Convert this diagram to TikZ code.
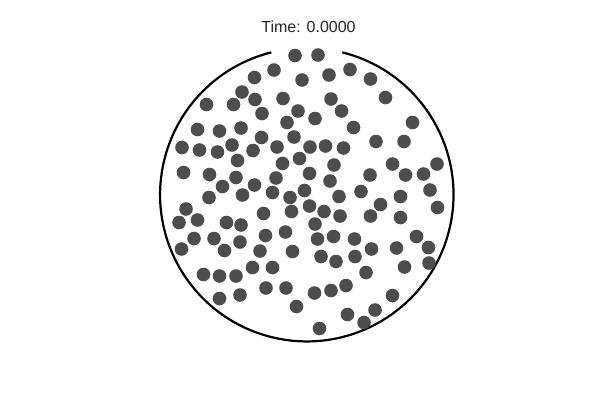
\documentclass[tikz,border=0pt]{standalone}
\usepackage{fontspec}
\setmainfont{Liberation Sans}
\definecolor{dotgray}{RGB}{77,77,77}
\definecolor{titlegray}{RGB}{38,38,38}
\begin{document}
\begin{tikzpicture}[x=1pt,y=-1pt,
  ball/.style={circle,fill=dotgray,draw=none,inner sep=0pt,minimum size=13.6pt},
  wall/.style={line width=2.2pt,black}]
\useasboundingbox (0,0) rectangle (600,400);
\node[font=\fontsize{16}{18}\selectfont,anchor=base,text=titlegray] (title) at (308.5,32.5) {Time: 0.0000};
\coordinate (c) at (306.8,194.7);
\draw[wall] ([shift={(-76:146.7)}]c) arc[start angle=-76,end angle=256,radius=146.7];
\foreach \px/\py [count=\i] in {295/55.5,318/55,274/70,350/69.5,254.5/77.5,302/80,329/75,370.5/79,242/92,385.5/97.5,
206.5/104.5,233.5/104.5,255/99.5,283/98.5,331/99,298/111,341.5/111,262/113.5,287/122.5,315/118.5,
353.5/127.5,412.5/122.5,197.5/129.5,219.5/131,241/128,261.5/137.5,294/137,376/141.5,404/141.5,182/147.5,
199.5/150,217.5/152,232/145,253/150.5,277/147,310/147,325.5/146,343.5/148,237.5/160.5,299.5/158.5,
282.5/163.5,334/165,392.5/164,437/164,183.5/172.5,209.5/174.5,236/177.5,309.5/173.5,276/178,330/181,
370/175,405.5/175,423.5/174,222.5/186.5,254.5/185,272.5/192.5,304.5/190.5,290/197.5,339/196.5,361/191.5,
430/190,400.5/196.5,209/197.5,242.5/195,380.5/204.5,437.5/207.5,186/209,309.5/206,263.5/213.5,291.5/211.5,
324/211.5,340/216,370.5/216,400.5/217.5,197.5/220,179/222.5,226.5/222.5,241/225,315/224,265.5/235.5,
285.5/232,317.5/239,333.5/236.5,354.5/239,416.5/236.5,194/238.5,214/238.5,240/242,181.5/249,224.5/250.5,
260/251,292.5/251.5,321/256.5,336/261.5,355/256.5,371.5/249,396.5/248,428.5/247.5,252.5/267.5,272.5/267.5,
366/272.5,404.5/267,429/263,203.5/274.5,219.5/276,236/276,266/288,286/288,314.5/293,331/290.5,
346/285.5,392.5/295.5,219.5/298.5,240/295,296.5/306.5,347.5/314.5,375/310,364/322.5,319.5/328.5}
  \node[ball] (b\i) at (\px,\py) {};
\end{tikzpicture}
\end{document}
